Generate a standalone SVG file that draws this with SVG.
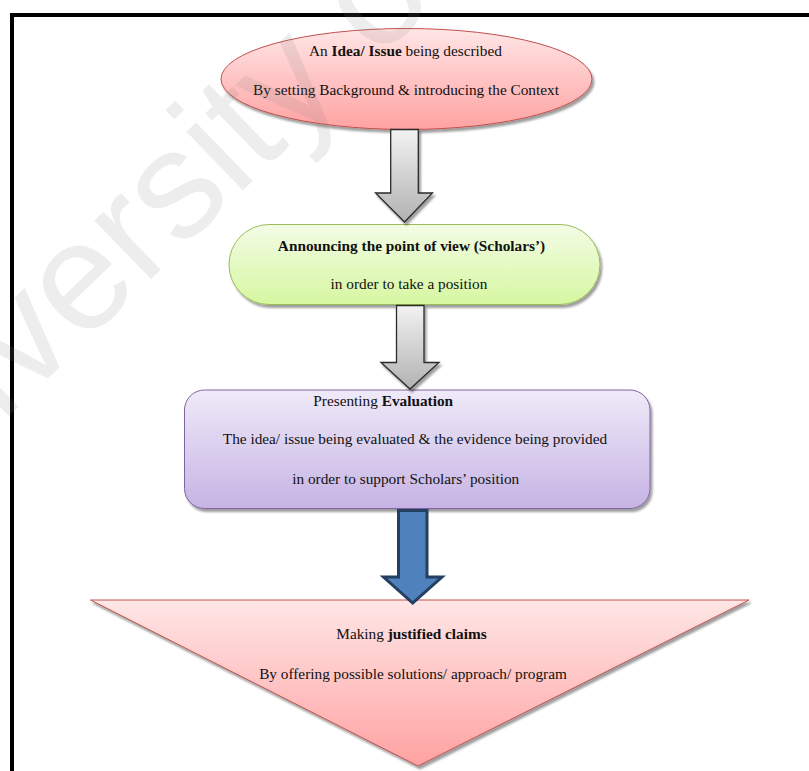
<svg xmlns="http://www.w3.org/2000/svg" width="809" height="771" viewBox="0 0 809 771">
  <defs>
    <style>
      .t { font-family: "Liberation Serif", "Times New Roman", serif; font-size: 15.3px; fill: #111; }
      .c { text-anchor: middle; }
      .b { font-weight: bold; }
      .wm { font-family: "Liberation Sans", Arial, sans-serif; font-size: 154px; fill: #808080; fill-opacity: 0.14; }
      .grayArrow { fill: url(#gGray); stroke: #2a2a2a; stroke-width: 1.3; stroke-linejoin: miter; }
      .blueArrow { fill: #4f81bd; stroke: #243f60; stroke-width: 3; stroke-linejoin: miter; }
    </style>
    <linearGradient id="gRed" x1="0" y1="0" x2="0" y2="1">
      <stop offset="0" stop-color="#ffe6e6"/>
      <stop offset="1" stop-color="#ffa2a2"/>
    </linearGradient>
    <linearGradient id="gGreen" x1="0" y1="0" x2="0" y2="1">
      <stop offset="0" stop-color="#f3fce6"/>
      <stop offset="1" stop-color="#d6f7a0"/>
    </linearGradient>
    <linearGradient id="gPurple" x1="0" y1="0" x2="0" y2="1">
      <stop offset="0" stop-color="#efeaf8"/>
      <stop offset="1" stop-color="#c6b3e4"/>
    </linearGradient>
    <linearGradient id="gGray" x1="0" y1="0" x2="0" y2="1">
      <stop offset="0" stop-color="#f2f2f2"/>
      <stop offset="1" stop-color="#b2b2b2"/>
    </linearGradient>
    <filter id="shadow" x="-10%" y="-10%" width="130%" height="140%">
      <feDropShadow dx="2" dy="3" stdDeviation="1.2" flood-color="#000" flood-opacity="0.38"/>
    </filter>
  </defs>

  <rect width="809" height="771" fill="#ffffff"/>

  <!-- page frame -->
  <rect x="12" y="15" width="830" height="790" fill="none" stroke="#000" stroke-width="4"/>

  <!-- step 1: idea / issue -->
  <g id="node-idea">
    <ellipse cx="406.5" cy="79" rx="185.5" ry="50.5" fill="url(#gRed)" stroke="#c0504d" stroke-width="1" filter="url(#shadow)"/>
    <text class="t c" x="405.5" y="56">An <tspan class="b">Idea/ Issue</tspan> being described</text>
    <text class="t c" x="406" y="95">By setting Background &amp; introducing the Context</text>
  </g>

  <!-- step 2: point of view -->
  <g id="node-position">
    <rect x="229" y="224.5" width="371" height="80" rx="40" ry="40" fill="url(#gGreen)" stroke="#9bbb59" stroke-width="1" filter="url(#shadow)"/>
    <text class="t c b" x="411.5" y="251">Announcing the point of view (Scholars’)</text>
    <text class="t c" x="409" y="289">in order to take a position</text>
  </g>

  <!-- step 3: evaluation -->
  <g id="node-evaluation">
    <rect x="184.5" y="390" width="465.5" height="118.5" rx="20" ry="20" fill="url(#gPurple)" stroke="#8064a2" stroke-width="1" filter="url(#shadow)"/>
    <text class="t" x="313.3" y="406">Presenting <tspan class="b">Evaluation</tspan></text>
    <text class="t c" x="415" y="444">The idea/ issue being evaluated &amp; the evidence being provided</text>
    <text class="t c" x="405.7" y="484">in order to support Scholars’ position</text>
  </g>

  <!-- step 4: claims -->
  <g id="node-claims">
    <polygon points="90.5,600 749,600 418,766" fill="url(#gRed)" stroke="#c0504d" stroke-width="1" filter="url(#shadow)"/>
    <text class="t c" x="411.5" y="639">Making <tspan class="b">justified claims</tspan></text>
    <text class="t c" x="413" y="678.5">By offering possible solutions/ approach/ program</text>
  </g>

  <!-- block arrows between steps -->
  <g id="connectors">
    <path class="grayArrow" filter="url(#shadow)" d="M390.7,129.5 H418.3 V193 H432.5 L404.5,222 L375.5,193 H390.7 Z"/>
    <path class="grayArrow" filter="url(#shadow)" d="M396.5,305.5 H424 V362.5 H439 L410,389 L381,362.5 H396.5 Z"/>
    <path class="blueArrow" d="M398.5,510.5 H427 V577 H442 L412.7,603 L383.5,577 H398.5 Z"/>
  </g>

  <!-- watermark -->
  <text class="wm" transform="translate(-140,560) rotate(-44)">University of Malaya</text>
</svg>
